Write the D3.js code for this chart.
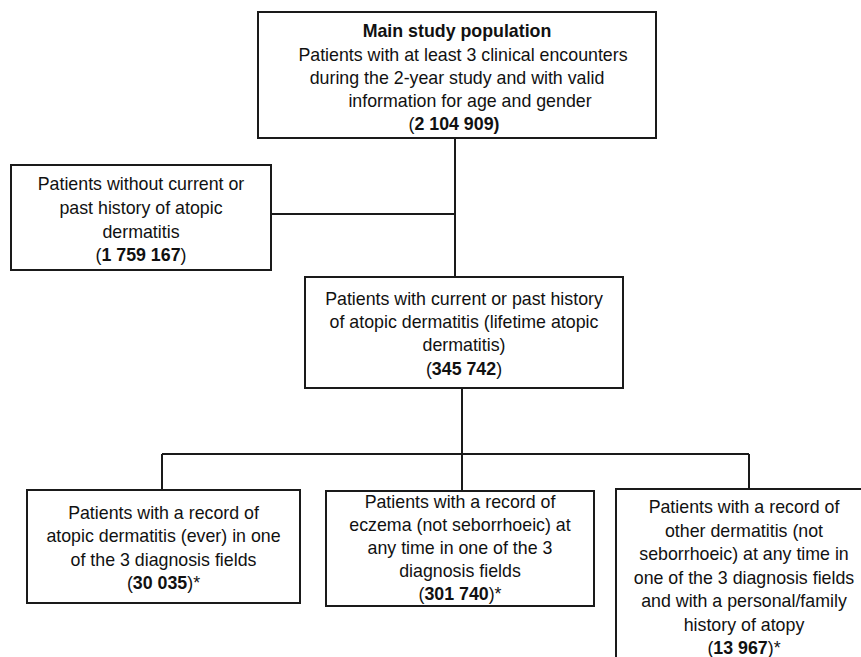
<!DOCTYPE html>
<html>
<head>
<meta charset="utf-8">
<script src="https://cdn.jsdelivr.net/npm/d3@7"></script>
<style>
  body { margin: 0; background: #fff; }
  svg { display: block; }
  text { font-family: "Liberation Sans", Arial, sans-serif; font-size: 17.8px; fill: #111; }
</style>
</head>
<body>
<div id="chart"></div>
<script>
// flowchart content
const boxIds = ["main", "without", "lifetime", "adRecord", "eczema", "other"];
const boxHeadings = ["Main study population", "", "", "", "", ""];
const boxLines = [
    ["Patients with at least 3 clinical encounters", "during the 2-year study and with valid", "information for age and gender"],
    ["Patients without current or", "past history of atopic", "dermatitis"],
    ["Patients with current or past history", "of atopic dermatitis (lifetime atopic", "dermatitis)"],
    ["Patients with a record of", "atopic dermatitis (ever) in one", "of the 3 diagnosis fields"],
    ["Patients with a record of", "eczema (not seborrhoeic) at", "any time in one of the 3", "diagnosis fields"],
    ["Patients with a record of", "other dermatitis (not", "seborrhoeic) at any time in", "one of the 3 diagnosis fields", "and with a personal/family", "history of atopy"]
];
const boxCounts = ["2 104 909", "1 759 167", "345 742", "30 035", "301 740", "13 967"];
const countNotes = ["", "", "", "*", "*", "*"];
const links = [["main", "lifetime"], ["without", "main"], ["lifetime", "adRecord"], ["lifetime", "eczema"], ["lifetime", "other"]];

// layout (pixels)
const layout = {
    main:     { x: 258, y: 12,  w: 398, h: 126, first: 31,  step: 23.3, dx: [0, 6, 0, 13, -3] },
    without:  { x: 11,  y: 165, w: 260, h: 105, first: 184, step: 23.7 },
    lifetime: { x: 305, y: 277, w: 318, h: 111, first: 298.5, step: 23.3 },
    adRecord: { x: 27,  y: 490, w: 273, h: 113, first: 512.5, step: 23.5 },
    eczema:   { x: 326, y: 491, w: 268, h: 115, first: 502, step: 23 },
    other:    { x: 616, y: 489, w: 256, h: 190, first: 507, step: 23.5 }
};
const W = 861, H = 657;

const svg = d3.select("#chart").append("svg")
    .attr("width", W)
    .attr("height", H)
    .attr("viewBox", [0, 0, W, H]);

const stroke = "#1a1a1a";

// connectors
const gLinks = svg.append("g").attr("fill", "none").attr("stroke", stroke).attr("stroke-width", 2);
const mainTrunkX = 455, splitTrunkX = 462, busY = 454, sideY = 214;
// main -> lifetime trunk
gLinks.append("line")
    .attr("x1", mainTrunkX).attr("x2", mainTrunkX)
    .attr("y1", layout.main.y + layout.main.h).attr("y2", layout.lifetime.y);
// excluded branch
gLinks.append("line")
    .attr("x1", layout.without.x + layout.without.w).attr("x2", mainTrunkX)
    .attr("y1", sideY).attr("y2", sideY);
// lifetime -> three groups
gLinks.append("line")
    .attr("x1", splitTrunkX).attr("x2", splitTrunkX)
    .attr("y1", layout.lifetime.y + layout.lifetime.h).attr("y2", layout.eczema.y);
const leftX = 162, rightX = 749;
gLinks.append("line").attr("x1", leftX).attr("x2", rightX).attr("y1", busY).attr("y2", busY);
gLinks.append("line").attr("x1", leftX).attr("x2", leftX).attr("y1", busY).attr("y2", layout.adRecord.y);
gLinks.append("line").attr("x1", rightX).attr("x2", rightX).attr("y1", busY).attr("y2", layout.other.y);

// boxes
const nodes = boxIds.map((id, i) => ({
    id, heading: boxHeadings[i], lines: boxLines[i], count: boxCounts[i], note: countNotes[i], ...layout[id]
}));

const box = svg.append("g").selectAll("g")
    .data(nodes)
    .join("g");

box.append("rect")
    .attr("x", d => d.x)
    .attr("y", d => d.y)
    .attr("width", d => d.w)
    .attr("height", d => d.h)
    .attr("fill", "#fff")
    .attr("stroke", stroke)
    .attr("stroke-width", 2);

box.each(function (d) {
    const g = d3.select(this);
    const cx = d.x + d.w / 2;
    let rows = [];
    if (d.heading) rows.push({ kind: "head", text: d.heading });
    d.lines.forEach(t => rows.push({ kind: "line", text: t }));
    rows.push({ kind: "count" });
    rows.forEach((r, k) => {
        const dx = d.dx ? d.dx[k] : 0;
        const t = g.append("text")
            .attr("x", cx + dx)
            .attr("y", d.first + k * d.step)
            .attr("dy", "0.35em")
            .attr("text-anchor", "middle");
        if (r.kind === "head") {
            t.attr("font-weight", "bold").text(r.text);
        } else if (r.kind === "line") {
            t.text(r.text);
        } else {
            t.append("tspan").text("(");
            t.append("tspan").attr("font-weight", "bold").text(d.count);
            t.append("tspan").attr("font-weight", d.id === "main" ? "bold" : null).text(")");
            if (d.note) t.append("tspan").text(d.note);
        }
    });
});
</script>
</body>
</html>
